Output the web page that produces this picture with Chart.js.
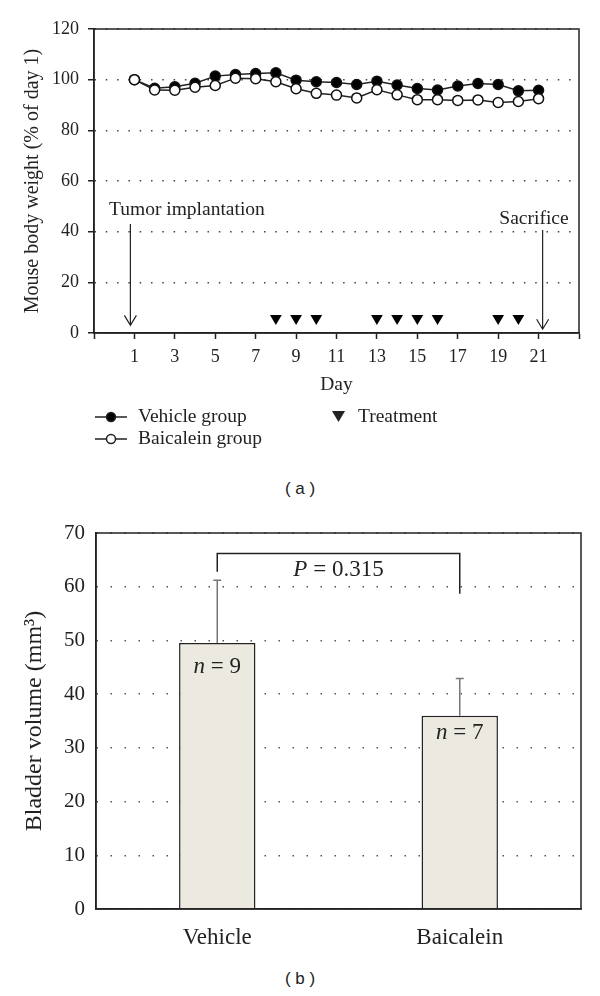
<!DOCTYPE html>
<html>
<head>
<meta charset="utf-8">
<script src="https://cdn.jsdelivr.net/npm/chart.js@4.4.0/dist/chart.umd.min.js"></script>
<style>
  html, body { margin: 0; padding: 0; background: #fff; }
  body { width: 600px; height: 996px; position: relative; overflow: hidden; }
  #wrapA { position: absolute; left: 0; top: 0; width: 600px; height: 470px; }
  #wrapB { position: absolute; left: 0; top: 500px; width: 600px; height: 460px; }
  .panel { position: absolute; left: 0; width: 600px; text-align: center;
           font-family: "Liberation Sans", Arial, sans-serif; font-size: 17px; color: #222; }
</style>
</head>
<body>
<div id="wrapA"><canvas id="weightChart" width="600" height="470"></canvas></div>
<div class="panel" style="top:479px">( a )</div>
<div id="wrapB"><canvas id="volumeChart" width="600" height="460"></canvas></div>
<div class="panel" style="top:969px">( b )</div>
<script>
// ---- data (a): body weight, % of day 1
var days = [1, 2, 3, 4, 5, 6, 7, 8, 9, 10, 11, 12, 13, 14, 15, 16, 17, 18, 19, 20, 21];
var vehicleWeight = [100, 96.6, 97.2, 98.6, 101.4, 102.0, 102.4, 102.7, 99.8, 99.2, 98.9, 98.1, 99.4, 97.9, 96.5, 95.9, 97.5, 98.5, 98.1, 95.6, 95.8];
var baicaleinWeight = [100, 95.9, 95.8, 97.0, 97.7, 100.6, 100.4, 99.2, 96.4, 94.6, 93.9, 92.8, 96.0, 94.0, 92.1, 92.1, 91.8, 92.0, 91.0, 91.4, 92.5];
var treatmentDays = [8, 9, 10, 13, 14, 15, 16, 19, 20];
var treatmentLevel = 5.8;
var dayTicks = [1, 3, 5, 7, 9, 11, 13, 15, 17, 19, 21];

// ---- data (b): bladder volume
var groups = ['Vehicle', 'Baicalein'];
var bladderVolume = [49.5, 36.0];
var bladderError = [11.7, 6.9];
var groupN = [9, 7];
var pValue = '0.315';

var SERIF = '"Liberation Serif", "Times New Roman", serif';
var INK = '#222';

function pts(xs, ys) {
  return xs.map(function(x, i) { return { x: x, y: ys[i] }; });
}

function drawMixed(ctx, parts, cx, cy, size) {
  var total = 0;
  parts.forEach(function(p) {
    ctx.font = (p[1] ? 'italic ' : '') + size + 'px ' + SERIF;
    p.w = ctx.measureText(p[0]).width;
    total += p.w;
  });
  var x = cx - total / 2;
  ctx.textAlign = 'left';
  ctx.textBaseline = 'middle';
  parts.forEach(function(p) {
    ctx.font = (p[1] ? 'italic ' : '') + size + 'px ' + SERIF;
    ctx.fillText(p[0], x, cy);
    x += p.w;
  });
}

function downArrow(ctx, x, y1, y2) {
  ctx.beginPath();
  ctx.moveTo(x, y1);
  ctx.lineTo(x, y2);
  ctx.moveTo(x - 6, y2 - 10);
  ctx.lineTo(x, y2);
  ctx.lineTo(x + 6, y2 - 10);
  ctx.stroke();
}

var weightDecor = {
  id: 'weightDecor',
  afterDraw: function(chart) {
    var ctx = chart.ctx, a = chart.chartArea;
    var xs = chart.scales.x, ys = chart.scales.y;
    ctx.save();
    ctx.strokeStyle = INK;
    ctx.lineWidth = 1.5;
    ctx.strokeRect(a.left, a.top, a.right - a.left, a.bottom - a.top);

    ctx.fillStyle = INK;
    ctx.lineWidth = 1.2;
    ctx.font = '19.5px ' + SERIF;
    ctx.textBaseline = 'middle';

    // tumor implantation
    var xt = xs.getPixelForValue(0.8);
    downArrow(ctx, xt, ys.getPixelForValue(43), ys.getPixelForValue(3));
    ctx.textAlign = 'left';
    ctx.fillText('Tumor implantation', 109, ys.getPixelForValue(48.6));

    // sacrifice
    var xsac = xs.getPixelForValue(21.2);
    downArrow(ctx, xsac, ys.getPixelForValue(40.7), ys.getPixelForValue(1.5));
    ctx.textAlign = 'center';
    ctx.fillText('Sacrifice', 534, ys.getPixelForValue(45));

    // legend
    var rows = [['Vehicle group', '#000'], ['Baicalein group', '#fff']];
    rows.forEach(function(r, i) {
      var y = 417 + i * 22;
      ctx.strokeStyle = INK;
      ctx.lineWidth = 1.5;
      ctx.beginPath();
      ctx.moveTo(95, y); ctx.lineTo(127, y); ctx.stroke();
      ctx.beginPath();
      ctx.arc(111, y, 4.5, 0, Math.PI * 2);
      ctx.fillStyle = r[1];
      ctx.fill();
      ctx.stroke();
      ctx.fillStyle = INK;
      ctx.textAlign = 'left';
      ctx.fillText(r[0], 138, y);
    });
    ctx.beginPath();
    ctx.moveTo(332, 411); ctx.lineTo(345, 411); ctx.lineTo(338.5, 422); ctx.closePath();
    ctx.fill();
    ctx.fillText('Treatment', 358, 417);
    ctx.restore();
  }
};

new Chart(document.getElementById('weightChart'), {
  type: 'line',
  data: {
    datasets: [
      {
        label: 'Treatment',
        data: treatmentDays.map(function(d) { return { x: d, y: treatmentLevel }; }),
        showLine: false,
        pointStyle: 'triangle',
        rotation: 180,
        pointRadius: 6.8,
        pointBackgroundColor: '#000',
        pointBorderColor: '#000',
        pointBorderWidth: 0,
        order: 0
      },
      {
        label: 'Baicalein group',
        data: pts(days, baicaleinWeight),
        borderColor: '#222',
        borderWidth: 1.5,
        pointRadius: 5,
        pointBackgroundColor: '#fff',
        pointBorderColor: '#111',
        pointBorderWidth: 1.5,
        order: 1
      },
      {
        label: 'Vehicle group',
        data: pts(days, vehicleWeight),
        borderColor: '#222',
        borderWidth: 1.5,
        pointRadius: 5,
        pointBackgroundColor: '#000',
        pointBorderColor: '#111',
        pointBorderWidth: 1.5,
        order: 2
      }
    ]
  },
  options: {
    responsive: false,
    animation: false,
    layout: { padding: { top: 29, right: 21, bottom: 73, left: 0 } },
    plugins: { legend: { display: false }, tooltip: { enabled: false } },
    scales: {
      x: {
        type: 'linear',
        min: -1,
        max: 23,
        afterFit: function(s) { s.height = 64; },
        ticks: {
          stepSize: 2,
          padding: 7,
          color: INK,
          font: { family: SERIF, size: 18 },
          maxRotation: 0,
          callback: function(v) { return dayTicks.indexOf(v) >= 0 ? String(v) : ''; }
        },
        grid: { drawOnChartArea: false, drawTicks: true, tickLength: 6, tickColor: INK, tickWidth: 1.5 },
        border: { color: INK, width: 1.5 },
        title: { display: true, text: 'Day', color: INK, font: { family: SERIF, size: 19.5 }, padding: 0 }
      },
      y: {
        min: 0,
        max: 120,
        afterFit: function(s) { s.width = 94; },
        ticks: { stepSize: 20, padding: 9, color: INK, font: { family: SERIF, size: 18 } },
        grid: { color: '#444', lineWidth: 1.5, tickLength: 6, tickColor: INK, tickWidth: 1.5, tickBorderDash: [] },
        border: { color: INK, width: 1.5, dash: [1.5, 9.8] },
        title: { display: true, text: 'Mouse body weight (% of day 1)', color: INK,
                 font: { family: SERIF, size: 20 }, padding: { top: 21 } }
      }
    }
  },
  plugins: [weightDecor]
});

var volumeDecor = {
  id: 'volumeDecor',
  afterDraw: function(chart) {
    var ctx = chart.ctx, a = chart.chartArea;
    var xs = chart.scales.x, ys = chart.scales.y;
    ctx.save();
    ctx.strokeStyle = INK;
    ctx.lineWidth = 1.5;
    ctx.strokeRect(a.left, a.top, a.right - a.left, a.bottom - a.top);

    // error bars (upper only)
    ctx.strokeStyle = '#777';
    ctx.lineWidth = 1.5;
    bladderVolume.forEach(function(v, i) {
      var x = xs.getPixelForValue(i);
      var yTop = ys.getPixelForValue(v + bladderError[i]);
      ctx.beginPath();
      ctx.moveTo(x, ys.getPixelForValue(v));
      ctx.lineTo(x, yTop);
      ctx.moveTo(x - 4, yTop);
      ctx.lineTo(x + 4, yTop);
      ctx.stroke();
    });

    // significance bracket
    var x0 = xs.getPixelForValue(0), x1 = xs.getPixelForValue(1);
    ctx.strokeStyle = INK;
    ctx.lineWidth = 1.5;
    ctx.beginPath();
    ctx.moveTo(x0, ys.getPixelForValue(62.8));
    ctx.lineTo(x0, ys.getPixelForValue(66.2));
    ctx.lineTo(x1, ys.getPixelForValue(66.2));
    ctx.lineTo(x1, ys.getPixelForValue(58.7));
    ctx.stroke();

    ctx.fillStyle = INK;
    drawMixed(ctx, [['P', true], [' = ' + pValue, false]], (x0 + x1) / 2, ys.getPixelForValue(63.1), 23);

    var nLevels = [45, 32.8];
    groupN.forEach(function(n, i) {
      drawMixed(ctx, [['n', true], [' = ' + n, false]], xs.getPixelForValue(i), ys.getPixelForValue(nLevels[i]), 23);
    });
    ctx.restore();
  }
};

new Chart(document.getElementById('volumeChart'), {
  type: 'bar',
  data: {
    labels: groups,
    datasets: [{
      label: 'Bladder volume',
      data: bladderVolume,
      backgroundColor: '#ECEAE0',
      borderColor: '#222',
      borderWidth: 1.5,
      barPercentage: 0.63,
      categoryPercentage: 0.5
    }]
  },
  options: {
    responsive: false,
    animation: false,
    layout: { padding: { top: 33, right: 19, bottom: 0, left: 0 } },
    plugins: { legend: { display: false }, tooltip: { enabled: false } },
    scales: {
      x: {
        afterFit: function(s) { s.height = 51; },
        ticks: { padding: 7, color: INK, font: { family: SERIF, size: 23 } },
        grid: { display: false },
        border: { color: INK, width: 1.5 }
      },
      y: {
        min: 0,
        max: 70,
        afterFit: function(s) { s.width = 96; },
        ticks: { stepSize: 10, padding: 11, color: INK, font: { family: SERIF, size: 21 } },
        grid: { color: '#555', lineWidth: 1.5, drawTicks: false },
        border: { color: INK, width: 1.5, dash: [1.5, 12.5] },
        title: { display: true, text: 'Bladder volume (mm\u00B3)', color: INK,
                 font: { family: SERIF, size: 24 }, padding: { top: 20 } }
      }
    }
  },
  plugins: [volumeDecor]
});
</script>
</body>
</html>
